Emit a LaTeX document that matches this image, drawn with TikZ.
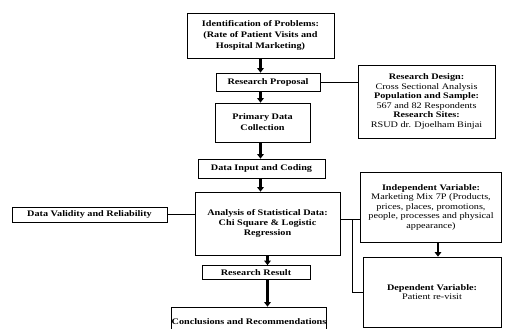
\documentclass[tikz,border=0pt]{standalone}
\usepackage{fontspec}
\setmainfont[FakeStretch=1.2]{Liberation Serif}
\usepackage{tikz}
\usetikzlibrary{arrows.meta, positioning}
\tikzstyle{box} = [draw=black, line width=0.7pt, align=center, inner sep=0pt, font=\fontsize{8.5}{9.5}\selectfont]
\tikzstyle{arrow} = [line width=2.3pt, -{Triangle[length=4.5pt,width=6.5pt]}]

\begin{document}
\begin{tikzpicture}[x=1pt, y=-1pt]

   \useasboundingbox (0,0) rectangle (506,329);

   % Main column of the research flow
   \node[box, minimum width=147pt, minimum height=45pt, font=\fontsize{8.5}{11}\selectfont\bfseries] (ident) at (260.5,35.5)
      {Identification of Problems:\\(Rate of Patient Visits and\\Hospital Marketing)};
   \node[box, minimum width=104pt, minimum height=18pt, font=\fontsize{8.5}{9.5}\selectfont\bfseries] (prop) at (268,82) {Research Proposal};
   \node[box, minimum width=95pt, minimum height=39pt, font=\fontsize{8.5}{11}\selectfont\bfseries] (primary) at (262.5,122.5) {Primary Data\\Collection};
   \node[box, minimum width=127pt, minimum height=19pt, font=\fontsize{8.5}{9.5}\selectfont\bfseries] (datain) at (261.5,168.5) {Data Input and Coding};
   \node[box, minimum width=145pt, minimum height=63pt, font=\fontsize{8.5}{10}\selectfont\bfseries] (anal) at (267.5,223.5)
      {Analysis of Statistical Data:\\Chi Square \& Logistic\\Regression};
   \node[box, minimum width=108pt, minimum height=14pt, font=\fontsize{8.5}{9.5}\selectfont\bfseries] (result) at (256,272.5) {Research Result};
   \node[box, minimum width=150pt, minimum height=30pt, font=\fontsize{8.5}{9.5}\selectfont\bfseries] (concl) at (249,322) {Conclusions and Recommendations};

   % Side boxes
   \node[box, minimum width=155pt, minimum height=15pt, font=\fontsize{8.5}{9.5}\selectfont\bfseries] (valid) at (89.5,214.5) {Data Validity and Reliability};
   \node[box, minimum width=137pt, minimum height=73pt] (design) at (426.5,101.5)
      {\textbf{Research Design:}\\Cross Sectional Analysis\\\textbf{Population and Sample:}\\567 and 82 Respondents\\\textbf{Research Sites:}\\RSUD dr. Djoelham Binjai};
   \node[box, minimum width=141pt, minimum height=70pt] (indep) at (431,207)
      {\textbf{Independent Variable:}\\Marketing Mix 7P (Products,\\prices, places, promotions,\\people, processes and physical\\appearance)};
   \node[box, minimum width=138pt, minimum height=70pt] (dep) at (432,292)
      {\textbf{Dependent Variable:}\\Patient re-visit};

   % Arrows down the main column
   \draw[arrow] (ident.south) -- (ident.south |- prop.north);
   \draw[arrow] (ident.south |- prop.south) -- (ident.south |- primary.north);
   \draw[arrow] (ident.south |- primary.south) -- (ident.south |- datain.north);
   \draw[arrow] (ident.south |- datain.south) -- (ident.south |- anal.north);
   \draw[arrow] (anal.south) -- (anal.south |- result.north);
   \draw[arrow] (anal.south |- result.south) -- (anal.south |- concl.north);
   \draw[arrow] ([xshift=7pt]indep.south) -- ([xshift=7pt]indep.south |- dep.north);

   % Plain connecting lines
   \coordinate (fork) at (352,219);
   \draw[line width=0.7pt] (prop.east) -- (prop.east -| design.west);
   \draw[line width=0.7pt] (valid.east) -- (valid.east -| anal.west);
   \draw[line width=0.7pt] (anal.east |- fork) -- (fork -| indep.west);
   \draw[line width=0.7pt] (fork) |- (dep.west);

\end{tikzpicture}
\end{document}
